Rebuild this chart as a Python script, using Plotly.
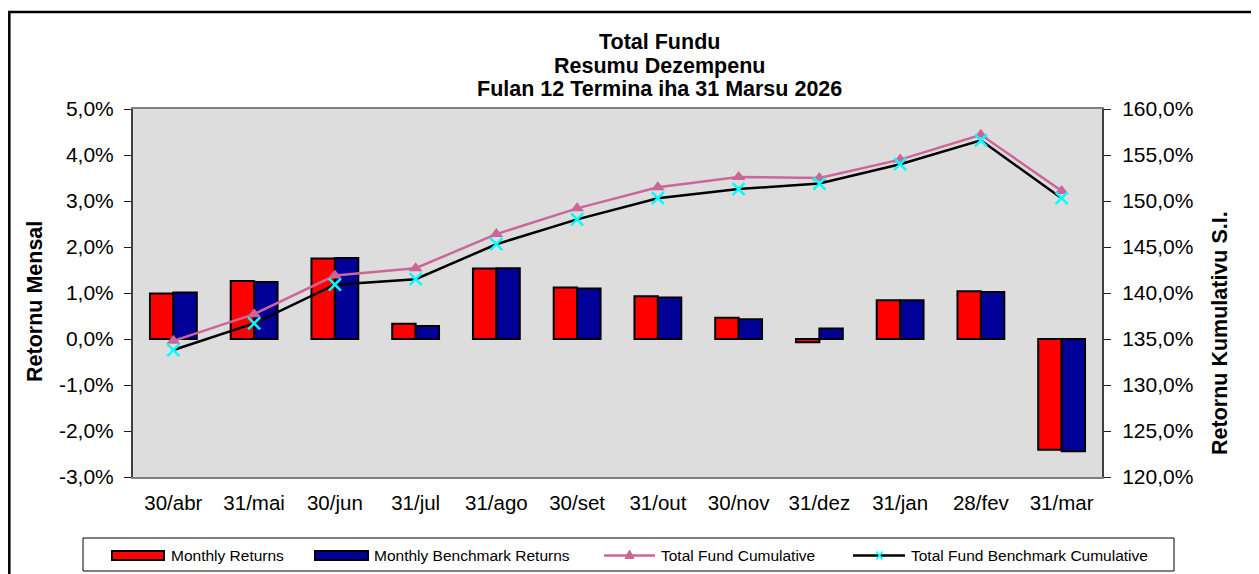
import plotly.graph_objects as go

# ---------------- data ----------------
categories = ['30/abr', '31/mai', '30/jun', '31/jul', '31/ago', '30/set',
              '31/out', '30/nov', '31/dez', '31/jan', '28/fev', '31/mar']
monthly_returns = [0.99, 1.26, 1.75, 0.33, 1.53, 1.12, 0.93, 0.46, -0.07, 0.84, 1.04, -2.41]
benchmark_returns = [1.01, 1.24, 1.76, 0.28, 1.54, 1.10, 0.90, 0.43, 0.23, 0.84, 1.02, -2.44]
fund_cumulative = [134.8, 137.7, 141.9, 142.7, 146.4, 149.2, 151.5, 152.6, 152.5, 154.5, 157.2, 151.1]
benchmark_cumulative = [133.8, 136.7, 140.9, 141.5, 145.3, 148.0, 150.3, 151.3, 151.9, 154.0, 156.6, 150.3]

series_names = ['Monthly Returns', 'Monthly Benchmark Returns',
                'Total Fund Cumulative', 'Total Fund Benchmark Cumulative']

left_tickvals = [-3, -2, -1, 0, 1, 2, 3, 4, 5]
left_ticktext = ['-3,0%', '-2,0%', '-1,0%', '0,0%', '1,0%', '2,0%', '3,0%', '4,0%', '5,0%']
right_tickvals = [120, 125, 130, 135, 140, 145, 150, 155, 160]
right_ticktext = ['120,0%', '125,0%', '130,0%', '135,0%', '140,0%', '145,0%', '150,0%', '155,0%', '160,0%']

title_lines = ['Total Fundu', 'Resumu Dezempenu', 'Fulan 12 Termina iha 31 Marsu 2026']
left_title = 'Retornu Mensal'
right_title = 'Retornu Kumulativu S.I.'

# ---------------- styles ----------------
PAGE_W, PAGE_H = 1259, 574
OFF = 8                      # default body margin of the html page
W, H = PAGE_W - OFF, PAGE_H - OFF
PL, PR, PT, PB = 133, 1102, 109, 477   # plot area in page pixels
FONT = 'Liberation Sans, Arial, sans-serif'
RED, BLUE, PINK, CYAN = '#FF0000', '#000099', '#CC6699', '#00FFFF'


def fx(px):
    return (px - PL) / (PR - PL)


def fy(py):
    return (PB - py) / (PB - PT)


fig = go.Figure()
fig.add_trace(go.Bar(x=categories, y=monthly_returns, name=series_names[0],
                     marker=dict(color=RED, line=dict(color='black', width=2)),
                     showlegend=False))
fig.add_trace(go.Bar(x=categories, y=benchmark_returns, name=series_names[1],
                     marker=dict(color=BLUE, line=dict(color='black', width=2)),
                     showlegend=False))
fig.add_trace(go.Scatter(x=categories, y=fund_cumulative, name=series_names[2], yaxis='y2',
                         mode='lines+markers', line=dict(color=PINK, width=2.5),
                         marker=dict(symbol='triangle-up', size=12, color=PINK),
                         showlegend=False))
fig.add_trace(go.Scatter(x=categories, y=benchmark_cumulative, name=series_names[3], yaxis='y2',
                         mode='lines+markers', line=dict(color='black', width=2.5),
                         marker=dict(symbol='x-thin', size=12, color=CYAN,
                                     line=dict(color=CYAN, width=2.5)),
                         showlegend=False))

n = len(categories)
shapes = []
annotations = []

# outer frame
shapes.append(dict(type='rect', xref='paper', yref='paper', x0=fx(9.3), x1=fx(1300),
                   y0=fy(600), y1=fy(12), line=dict(color='black', width=2.5), layer='below'))

# titles
for txt, yc in zip(title_lines, [42, 66, 89]):
    annotations.append(dict(text='<b>%s</b>' % txt, xref='paper', yref='paper', x=fx(659), y=fy(yc),
                            xanchor='center', yanchor='middle', showarrow=False,
                            font=dict(family=FONT, size=21.5, color='black')))
annotations.append(dict(text='<b>%s</b>' % left_title, xref='paper', yref='paper', x=fx(35), y=fy(302),
                        textangle=-90, xanchor='center', yanchor='middle', showarrow=False,
                        font=dict(family=FONT, size=21.5, color='black')))
annotations.append(dict(text='<b>%s</b>' % right_title, xref='paper', yref='paper', x=fx(1220), y=fy(333),
                        textangle=-90, xanchor='center', yanchor='middle', showarrow=False,
                        font=dict(family=FONT, size=21.5, color='black')))

# custom legend
LY = 555.5
shapes.append(dict(type='rect', xref='paper', yref='paper', x0=fx(83), x1=fx(1174), y0=fy(571), y1=fy(538),
                   line=dict(color='black', width=1), fillcolor='white'))
shapes.append(dict(type='rect', xref='paper', yref='paper', x0=fx(112), x1=fx(164), y0=fy(560), y1=fy(551),
                   line=dict(color='black', width=2), fillcolor=RED))
shapes.append(dict(type='rect', xref='paper', yref='paper', x0=fx(315), x1=fx(368), y0=fy(560), y1=fy(551),
                   line=dict(color='black', width=2), fillcolor=BLUE))
shapes.append(dict(type='line', xref='paper', yref='paper', x0=fx(604), x1=fx(655), y0=fy(LY), y1=fy(LY),
                   line=dict(color=PINK, width=2.5)))
shapes.append(dict(type='path', xref='paper', yref='paper',
                   path='M %f %f L %f %f L %f %f Z' % (fx(629.5), fy(550), fx(625), fy(558.5), fx(634), fy(558.5)),
                   line=dict(color=PINK, width=1), fillcolor=PINK))
shapes.append(dict(type='line', xref='paper', yref='paper', x0=fx(853), x1=fx(905), y0=fy(LY), y1=fy(LY),
                   line=dict(color='black', width=2.5)))
shapes.append(dict(type='line', xref='paper', yref='paper', x0=fx(876.5), x1=fx(882.5), y0=fy(551.5), y1=fy(559.5),
                   line=dict(color=CYAN, width=1.5)))
shapes.append(dict(type='line', xref='paper', yref='paper', x0=fx(876.5), x1=fx(882.5), y0=fy(559.5), y1=fy(551.5),
                   line=dict(color=CYAN, width=1.5)))
for name, xs in zip(series_names, [169, 372, 659, 909]):
    annotations.append(dict(text=name, xref='paper', yref='paper', x=fx(xs), y=fy(LY),
                            xanchor='left', yanchor='middle', showarrow=False,
                            font=dict(family=FONT, size=15.5, color='black')))

fig.update_layout(
    width=W, height=H,
    margin=dict(l=PL - OFF, r=PAGE_W - PR, t=PT - OFF, b=PAGE_H - PB, pad=0),
    paper_bgcolor='white', plot_bgcolor='#DDDDDD',
    separators=',.',
    barmode='group', bargap=0.42, bargroupgap=0,
    showlegend=False,
    font=dict(family=FONT, size=20, color='black'),
    xaxis=dict(type='category', categoryorder='array', categoryarray=categories,
               range=[-0.5, n - 0.5], showgrid=False, zeroline=False,
               showline=True, linecolor='#808080', linewidth=2, mirror=True,
               ticks='', ticklabelstandoff=6,
               tickfont=dict(family=FONT, size=20.5, color='black')),
    xaxis2=dict(overlaying='x', anchor='free', position=3 / 8,
                range=[-0.5, n - 0.5], showgrid=False, zeroline=False,
                showline=True, linecolor='#707070', linewidth=2,
                tickmode='array', tickvals=[i + 0.5 for i in range(n - 1)],
                ticks='outside', ticklen=6, tickwidth=1, tickcolor='#404040',
                showticklabels=False, side='bottom'),
    yaxis=dict(range=[-3, 5], tickmode='array', tickvals=left_tickvals, ticktext=left_ticktext,
               showgrid=False, zeroline=False, showline=True, linecolor='#404040', linewidth=2,
               ticks='outside', ticklen=7, tickwidth=1, tickcolor='#202020',
               ticklabelstandoff=6,
               tickfont=dict(family=FONT, size=21, color='black')),
    yaxis2=dict(range=[120, 160], overlaying='y', side='right', anchor='x',
                tickmode='array', tickvals=right_tickvals, ticktext=right_ticktext,
                showgrid=False, zeroline=False, showline=True, linecolor='#404040', linewidth=2,
                ticks='outside', ticklen=7, tickwidth=1, tickcolor='#202020',
                ticklabelstandoff=7,
                tickfont=dict(family=FONT, size=21, color='black')),
    shapes=shapes, annotations=annotations,
)

fig.write_html('out.html')
